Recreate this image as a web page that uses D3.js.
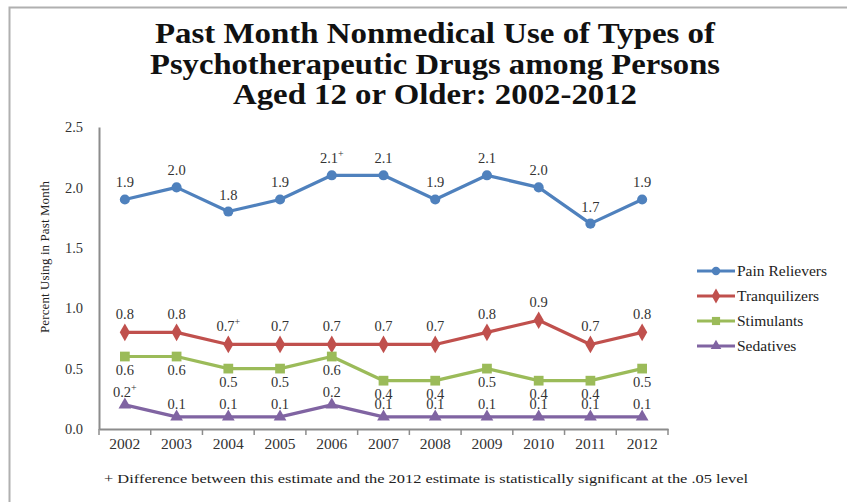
<!DOCTYPE html>
<html>
<head>
<meta charset="utf-8">
<script src="https://cdn.jsdelivr.net/npm/d3@7"></script>
<style>
  body { margin: 0; background: #fff; }
  text { font-family: "Liberation Serif", "Times New Roman", serif; }
</style>
</head>
<body>
<div id="data-vis"></div>
<script>
// data
var years = ["2002", "2003", "2004", "2005", "2006", "2007", "2008", "2009", "2010", "2011", "2012"];
var painRelievers = [1.9, 2.0, 1.8, 1.9, 2.1, 2.1, 1.9, 2.1, 2.0, 1.7, 1.9];
var tranquilizers = [0.8, 0.8, 0.7, 0.7, 0.7, 0.7, 0.7, 0.8, 0.9, 0.7, 0.8];
var stimulants = [0.6, 0.6, 0.5, 0.5, 0.6, 0.4, 0.4, 0.5, 0.4, 0.4, 0.5];
var sedatives = [0.2, 0.1, 0.1, 0.1, 0.2, 0.1, 0.1, 0.1, 0.1, 0.1, 0.1];
// "+" marks: significant difference from 2012
var painSig = ["2006"];
var tranqSig = ["2004"];
var stimSig = [];
var sedSig = ["2002"];
var yTicks = [0, 0.5, 1.0, 1.5, 2.0, 2.5];

var series = [
  {name: "Pain Relievers", values: painRelievers, sig: painSig, color: "#4F81BD", symbol: d3.symbolCircle, size: 80, labelDy: -12},
  {name: "Tranquilizers", values: tranquilizers, sig: tranqSig, color: "#C0504D", symbol: d3.symbolDiamond, size: 90, labelDy: -13},
  {name: "Stimulants", values: stimulants, sig: stimSig, color: "#9BBB59", symbol: d3.symbolSquare, size: 95, labelDy: 18},
  {name: "Sedatives", values: sedatives, sig: sedSig, color: "#8064A2", symbol: d3.symbolTriangle, size: 70, labelDy: -8}
];

var width = 847, height = 502;
var svg = d3.select("#data-vis")
  .append("svg")
    .attr("width", width)
    .attr("height", height);

// frame
svg.append("path")
  .attr("d", "M9.5,502 V7.5 H847")
  .attr("fill", "none")
  .attr("stroke", "#b0b0b0")
  .attr("stroke-width", 2);

// title
var titleLines = ["Past Month Nonmedical Use of Types of", "Psychotherapeutic Drugs among Persons", "Aged 12 or Older: 2002-2012"];
var titleWidths = [560, 570, 404];
svg.append("g")
  .selectAll("text")
  .data(titleLines)
  .enter().append("text")
    .attr("x", 435)
    .attr("y", function(d, i) { return 43 + i * 30.5; })
    .attr("text-anchor", "middle")
    .attr("textLength", function(d, i) { return titleWidths[i]; })
    .attr("lengthAdjust", "spacingAndGlyphs")
    .style("font-size", "29px")
    .style("font-weight", "bold")
    .attr("fill", "#111")
    .text(function(d) { return d; });

// scales
var x = d3.scaleBand()
  .domain(years)
  .range([99, 668]);

var y = d3.scaleLinear()
  .domain([0, 2.5])
  .range([429, 127]);

function cx(d) { return x(d) + x.bandwidth() / 2; }

// Y axis
var yAxis = svg.append("g")
  .attr("transform", "translate(99,0)")
  .call(d3.axisLeft(y).tickValues(yTicks).tickFormat(d3.format(".1f")).tickSize(0).tickPadding(16));
yAxis.select(".domain").attr("stroke", "#8c8c8c").attr("stroke-width", 2);
yAxis.selectAll("text")
  .style("font-family", "'Liberation Serif', serif")
  .style("font-size", "14.5px")
  .attr("fill", "#333");

// X axis
var xAxis = svg.append("g")
  .attr("transform", "translate(0,429)")
  .call(d3.axisBottom(x).tickSize(0).tickPadding(9));
xAxis.select(".domain").attr("stroke", "#8c8c8c").attr("stroke-width", 2);
xAxis.selectAll("text")
  .style("font-family", "'Liberation Serif', serif")
  .style("font-size", "15.5px")
  .attr("fill", "#333");
// tick marks between categories
svg.append("g")
  .selectAll("line")
  .data(years.concat(["end"]))
  .enter().append("line")
    .attr("x1", function(d, i) { return i < years.length ? x(d) : x.range()[1]; })
    .attr("x2", function(d, i) { return i < years.length ? x(d) : x.range()[1]; })
    .attr("y1", 429)
    .attr("y2", 435)
    .attr("stroke", "#8c8c8c")
    .attr("stroke-width", 1.5);

// Y axis title
svg.append("text")
  .attr("transform", "translate(49,257) rotate(-90)")
  .attr("text-anchor", "middle")
  .style("font-size", "13px")
  .attr("fill", "#222")
  .attr("textLength", 152)
  .text("Percent Using in Past Month");

// lines and markers
var line = d3.line()
  .x(function(d, i) { return cx(years[i]); })
  .y(function(d) { return y(d); });

series.forEach(function(s) {
  var g = svg.append("g");
  g.append("path")
    .attr("d", line(s.values))
    .attr("fill", "none")
    .attr("stroke", s.color)
    .attr("stroke-width", 3.2)
    .attr("stroke-linejoin", "round");

  g.selectAll("path.mark")
    .data(s.values)
    .enter().append("path")
      .attr("class", "mark")
      .attr("d", d3.symbol().type(s.symbol).size(s.size))
      .attr("transform", function(d, i) { return "translate(" + cx(years[i]) + "," + y(d) + ")"; })
      .attr("fill", s.color);

  var lbl = g.selectAll("text")
    .data(s.values)
    .enter().append("text")
      .attr("x", function(d, i) { return cx(years[i]); })
      .attr("y", function(d) { return y(d) + s.labelDy; })
      .attr("text-anchor", "middle")
      .style("font-size", "14.5px")
      .attr("fill", "#333");
  lbl.append("tspan").text(function(d) { return d3.format(".1f")(d); });
  lbl.filter(function(d, i) { return s.sig.indexOf(years[i]) >= 0; })
    .append("tspan")
      .attr("dy", -6)
      .style("font-size", "10px")
      .text("+");
});

// legend
var legend = svg.append("g")
  .selectAll("g")
  .data(series)
  .enter().append("g")
    .attr("transform", function(d, i) { return "translate(697," + (271 + i * 25) + ")"; });
legend.append("line")
  .attr("x1", 0).attr("x2", 38)
  .attr("stroke", function(d) { return d.color; })
  .attr("stroke-width", 3);
legend.append("path")
  .attr("d", function(d) { return d3.symbol().type(d.symbol).size(d.size * 0.7)(); })
  .attr("transform", "translate(19,0)")
  .attr("fill", function(d) { return d.color; });
legend.append("text")
  .attr("x", 40)
  .attr("y", 5)
  .style("font-size", "15.5px")
  .attr("fill", "#222")
  .text(function(d) { return d.name; });

// footnote
svg.append("text")
  .attr("x", 104)
  .attr("y", 483)
  .style("font-size", "13.5px")
  .attr("fill", "#222")
  .attr("textLength", 644)
  .attr("lengthAdjust", "spacingAndGlyphs")
  .text("+ Difference between this estimate and the 2012 estimate is statistically significant at the .05 level");
</script>
</body>
</html>
